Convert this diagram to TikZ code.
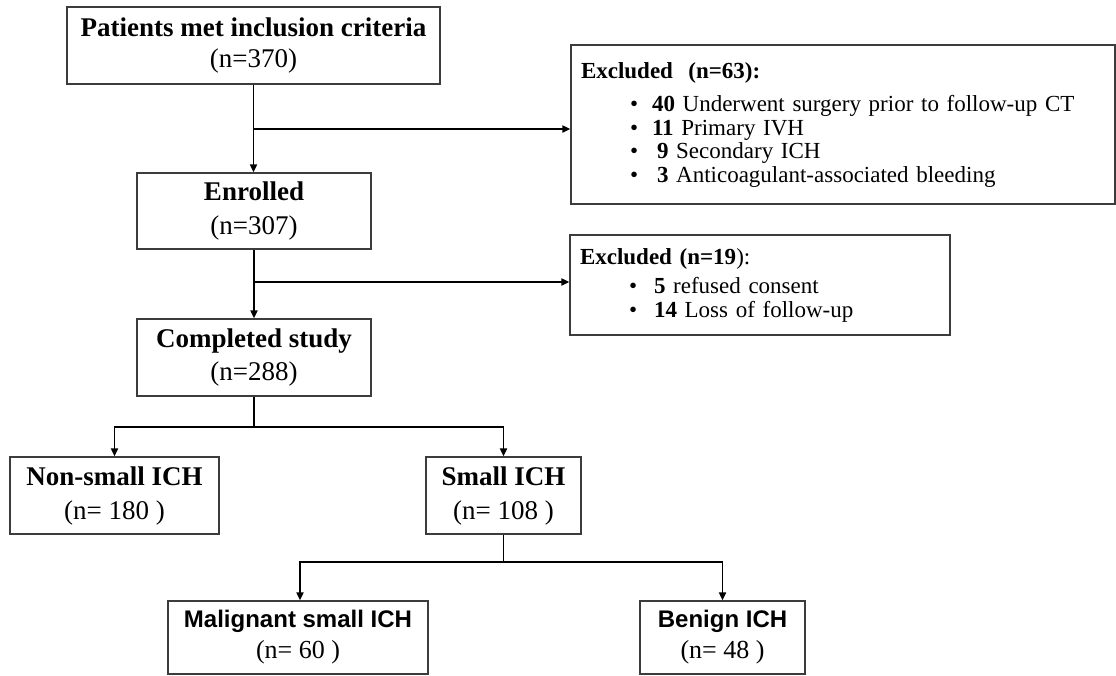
\documentclass[tikz,border=0pt]{standalone}
\usepackage{fontspec}
\setmainfont{Liberation Serif}
\newfontfamily\arialfont{Liberation Sans}
\usetikzlibrary{arrows.meta}
\definecolor{boxgray}{HTML}{3C3C3C}
\tikzset{
  box/.style={draw=boxgray, line width=1.3pt, inner sep=0pt, align=center,
    font=\fontsize{27}{34}\selectfont},
  exbox/.style={draw=boxgray, line width=1.3pt, inner xsep=10pt, inner ysep=0pt, align=left,
    font=\fontsize{23}{23.5}\selectfont},
  conn/.style={line width=1.9pt},
  arr/.style={conn, -{Triangle[length=8pt,width=7pt]}}
}
\newcommand{\bul}{\hspace*{49pt}\makebox[22pt][l]{\textbullet}}
\begin{document}
\begin{tikzpicture}[x=1pt,y=-1pt]
\useasboundingbox (0,0) rectangle (1116,675);
% main column
\node[box, font=\fontsize{27}{31}\selectfont, minimum width=373pt, minimum height=77pt] (p) at (253.5,45.5)
  {\textbf{Patients met inclusion criteria}\\(n=370)};
\node[box, minimum width=234pt, minimum height=76pt] (en) at (254,211)
  {\textbf{Enrolled}\\(n=307)};
\node[box, font=\fontsize{27}{32.5}\selectfont, minimum width=234pt, minimum height=77pt] (cs) at (254,357.5)
  {\textbf{Completed study}\\(n=288)};
\node[box, minimum width=209pt, minimum height=77pt] (ns) at (114.5,495.5)
  {\textbf{Non-small ICH}\\(n= 180 )};
\node[box, minimum width=155pt, minimum height=77pt] (sm) at (503.5,495.5)
  {\textbf{Small ICH}\\(n= 108 )};
\node[box, minimum width=260pt, minimum height=73pt] (mal) at (298,637.5)
  {{\arialfont\fontsize{24}{28}\selectfont\bfseries Malignant small ICH}\\[-3pt]{\fontsize{26}{28}\selectfont (n= 60 )}};
\node[box, minimum width=165pt, minimum height=73pt] (ben) at (722.5,637.5)
  {{\arialfont\fontsize{24}{28}\selectfont\bfseries Benign ICH}\\[-3pt]{\fontsize{26}{28}\selectfont (n= 48 )}};
% exclusion boxes
\node[exbox, text width=524pt, minimum height=159pt] (ex1) at (843,124.5)
  {\textbf{Excluded\ \ (n=63):}\\[10pt]
   \bul\textbf{40} Underwent surgery prior to follow-up CT\\
   \bul\textbf{11} Primary IVH\\
   \bul\hspace*{5pt}\textbf{9} Secondary ICH\\
   \bul\hspace*{5pt}\textbf{3} Anticoagulant-associated bleeding};
\node[exbox, text width=360pt, minimum height=100pt] (ex2) at (760,285)
  {\textbf{Excluded (n=19}):\\[6pt]
   \bul\hspace*{3pt}\textbf{5} refused consent\\
   \bul\hspace*{3pt}\textbf{14} Loss of follow-up};
% branch points
\coordinate (b1) at (253.5,129);
\coordinate (b2) at (254,282);
\coordinate (b3) at (254,427);
\coordinate (b4) at (503.5,562);
% connectors
\draw[arr] (p.south) -- (p.south |- en.north);
\draw[arr] (b1) -- (b1 -| ex1.west);
\draw[arr] (en.south) -- (cs.north);
\draw[arr] (b2) -- (b2 -| ex2.west);
\draw[conn] (cs.south) -- (b3);
\draw[arr] (b3) -| (ns.north);
\draw[arr] (b3) -| (sm.north);
\draw[conn] (sm.south) -- (b4);
\draw[arr] (b4) -| ([xshift=2pt]mal.north);
\draw[arr] (b4) -| (ben.north);
\end{tikzpicture}
\end{document}
